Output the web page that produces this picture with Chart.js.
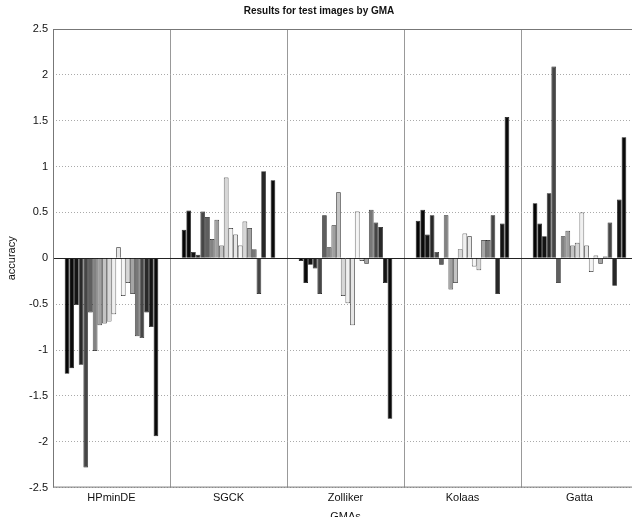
<!DOCTYPE html>
<html>
<head>
<meta charset="utf-8">
<title>Results for test images by GMA</title>
<script src="https://cdn.jsdelivr.net/npm/chart.js@4.4.1/dist/chart.umd.min.js"></script>
<style>
  html, body { margin: 0; padding: 0; background: #fff; overflow: hidden; }
  #wrap { width: 640px; height: 524px; }
</style>
</head>
<body>
<div id="wrap"><canvas id="gmaChart" width="640" height="524"></canvas></div>
<script>
// categories (gamut mapping algorithms)
const gmas = ['HPminDE', 'SGCK', 'Zolliker', 'Kolaas', 'Gatta'];

// accuracy for the 20 test images, one array per GMA
const hpminde  = [-1.26, -1.20, -0.51, -1.16, -2.28, -0.59, -1.01, -0.73, -0.71, -0.69, -0.61, 0.12, -0.41, -0.27, -0.39, -0.85, -0.87, -0.59, -0.75, -1.94];
const sgck     = [0.31, 0.52, 0.07, 0.04, 0.51, 0.45, 0.21, 0.42, 0.14, 0.88, 0.33, 0.26, 0.14, 0.40, 0.33, 0.10, -0.39, 0.95, 0.00, 0.85];
const zolliker = [-0.03, -0.27, -0.07, -0.11, -0.39, 0.47, 0.12, 0.36, 0.72, -0.41, -0.49, -0.73, 0.51, -0.03, -0.06, 0.53, 0.39, 0.34, -0.27, -1.75];
const kolaas   = [0.41, 0.53, 0.26, 0.47, 0.07, -0.07, 0.47, -0.34, -0.27, 0.10, 0.27, 0.24, -0.09, -0.13, 0.20, 0.20, 0.47, -0.39, 0.38, 1.54];
const gatta    = [0.60, 0.38, 0.24, 0.71, 2.09, -0.27, 0.24, 0.30, 0.14, 0.17, 0.50, 0.14, -0.15, 0.03, -0.06, 0.02, 0.39, -0.30, 0.64, 1.32];

// y axis ticks
const yTicks = [-2.5, -2, -1.5, -1, -0.5, 0, 0.5, 1, 1.5, 2, 2.5];

// grey level of each test image's bar
const grays = [5, 10, 20, 40, 70, 95, 130, 160, 195, 215, 240, 230, 245, 215, 165, 120, 70, 40, 20, 10];

const groups = [hpminde, sgck, zolliker, kolaas, gatta];
const datasets = grays.map((g, i) => ({
    label: 'image ' + (i + 1),
    data: groups.map(arr => arr[i]),
    backgroundColor: `rgb(${g},${g},${g})`,
    borderColor: '#111',
    borderWidth: 0.7,
    categoryPercentage: 0.8,
    barPercentage: 1.0
}));

// box round the plot, like matlab axes
const frame = {
    id: 'frame',
    afterDraw(chart) {
        const a = chart.chartArea;
        const c = chart.ctx;
        c.save();
        c.strokeStyle = '#777';
        c.lineWidth = 1;
        c.strokeRect(a.left + 0.5, a.top + 0.5, a.right - a.left - 1, a.bottom - a.top - 1);
        c.restore();
    }
};

const ctx = document.getElementById('gmaChart').getContext('2d');
const gmaChart = new Chart(ctx, {
    type: 'bar',
    data: { labels: gmas, datasets: datasets },
    plugins: [frame],
    options: {
        responsive: false,
        animation: false,
        layout: { padding: { left: 0, right: 2, top: 0, bottom: 0 } },
        scales: {
            x: {
                offset: true,
                grid: { offset: true, color: '#999', lineWidth: 1, drawTicks: false },
                border: { display: false },
                ticks: { color: '#111', padding: 4, font: { family: 'Liberation Sans', size: 11 } },
                title: { display: true, text: 'GMAs', color: '#111', padding: { top: 2, bottom: 0 },
                         font: { family: 'Liberation Sans', size: 11 } }
            },
            y: {
                min: -2.5,
                max: 2.5,
                afterFit(scale) { scale.width = 53; },
                afterBuildTicks(scale) { scale.ticks = yTicks.map(v => ({ value: v })); },
                grid: {
                    drawTicks: false,
                    color: c => (c.tick && c.tick.value === 0) ? '#222' : '#aaa',
                    lineWidth: 1
                },
                border: {
                    display: false,
                    dash: c => (c.tick && c.tick.value === 0) ? [] : [1, 2]
                },
                ticks: {
                    color: '#111',
                    padding: 5,
                    font: { family: 'Liberation Sans', size: 11 },
                    callback: v => String(v)
                },
                title: { display: true, text: 'accuracy', color: '#111', padding: { top: 5, bottom: 0 },
                         font: { family: 'Liberation Sans', size: 11 } }
            }
        },
        plugins: {
            legend: { display: false },
            tooltip: { enabled: false },
            title: {
                display: true,
                text: 'Results for test images by GMA',
                color: '#111',
                font: { family: 'Liberation Sans', size: 10, weight: 'bold' },
                padding: { top: 5, bottom: 12 }
            }
        }
    }
});
</script>
</body>
</html>
